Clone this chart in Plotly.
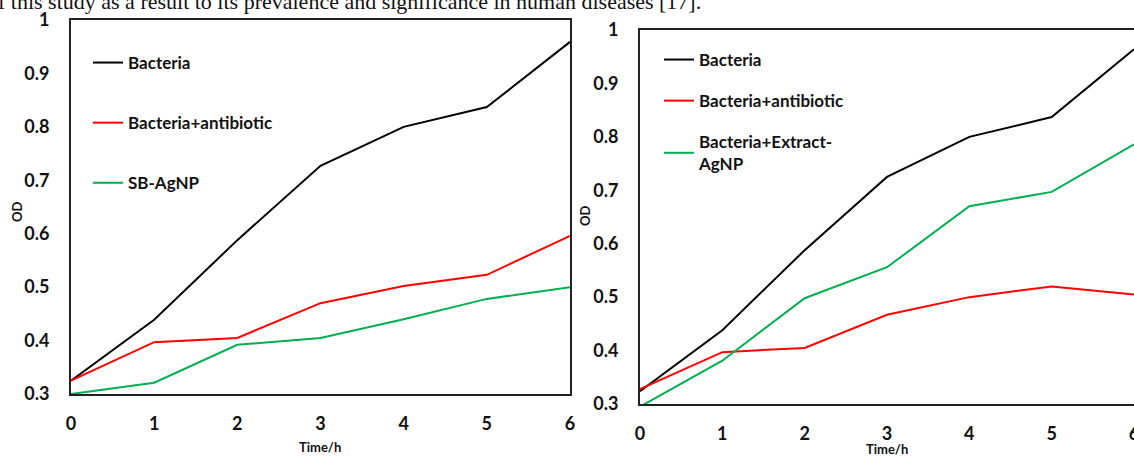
import plotly.graph_objects as go

hours = [0, 1, 2, 3, 4, 5, 6]
tick_vals_y = [0.3, 0.4, 0.5, 0.6, 0.7, 0.8, 0.9, 1.0]
tick_text_y = ["0.3", "0.4", "0.5", "0.6", "0.7", "0.8", "0.9", "1"]

# Left panel
left_bacteria = [0.325, 0.439, 0.588, 0.727, 0.800, 0.837, 0.959]
left_antibiotic = [0.325, 0.397, 0.405, 0.470, 0.502, 0.523, 0.596]
left_sbagnp = [0.300, 0.321, 0.392, 0.405, 0.440, 0.478, 0.500]

# Right panel
right_bacteria = [0.324, 0.438, 0.588, 0.725, 0.800, 0.837, 0.964]
right_antibiotic = [0.328, 0.397, 0.405, 0.467, 0.500, 0.520, 0.505]
right_extract = [0.295, 0.381, 0.498, 0.556, 0.670, 0.697, 0.786]

BLACK = "#000000"
RED = "#FF0000"
GREEN = "#00B050"
FONT = "Lato"

W, H = 1134, 457

fig = go.Figure()

def add(x, y, name, color, xa, ya, legend, group):
    fig.add_trace(go.Scatter(
        x=x, y=y, name=name, mode="lines",
        line=dict(color=color, width=2),
        xaxis=xa, yaxis=ya, legend=legend, legendgroup=group,
        cliponaxis=True,
    ))

add(hours, left_bacteria, "Bacteria", BLACK, "x", "y", "legend", "a")
add(hours, left_antibiotic, "Bacteria+antibiotic", RED, "x", "y", "legend", "b")
add(hours, left_sbagnp, "SB-AgNP", GREEN, "x", "y", "legend", "c")

add(hours, right_bacteria, "Bacteria", BLACK, "x2", "y2", "legend2", "d")
add(hours, right_antibiotic, "Bacteria+antibiotic", RED, "x2", "y2", "legend2", "e")
add(hours, right_extract, "Bacteria+Extract-<br>AgNP", GREEN, "x2", "y2", "legend2", "f")

def px_x(p):
    return p / W

def px_y(p):
    return 1 - p / H

tickfont = dict(family=FONT, size=18, color="#111111", weight="bold")
titlefont = dict(family=FONT, size=13, color="#111111", weight="bold")
legfont = dict(family=FONT, size=17, color="#111111", weight="bold")

common_x = dict(range=[0, 6], tickvals=hours, showgrid=False, zeroline=False,
                showline=True, linecolor="#222222", linewidth=2, ticks="",
                tickfont=tickfont, fixedrange=True, automargin=False,
                ticklabeloverflow="allow")
common_y = dict(range=[0.3, 1.0], tickvals=tick_vals_y, ticktext=tick_text_y,
                showgrid=False, zeroline=False, showline=True, linecolor="#222222",
                linewidth=2, ticks="", tickfont=tickfont, fixedrange=True,
                automargin=False, ticklabeloverflow="allow")

fig.update_layout(
    width=W, height=H,
    margin=dict(l=0, r=0, t=0, b=0, autoexpand=False),
    paper_bgcolor="white", plot_bgcolor="white",
    xaxis=dict(**common_x, domain=[px_x(71), px_x(570)], anchor="y", mirror=True,
               ticklabelstandoff=12),
    yaxis=dict(**common_y, domain=[px_y(394), px_y(20)], anchor="x", mirror=True,
               ticklabelstandoff=16),
    xaxis2=dict(**common_x, domain=[px_x(640), 1.0], anchor="y2", mirror=True,
                ticklabelstandoff=12),
    yaxis2=dict(**common_y, domain=[px_y(404), px_y(30)], anchor="x2",
                ticklabelstandoff=16),
    legend=dict(x=px_x(88), y=px_y(45), xanchor="left", yanchor="top",
                bgcolor="rgba(0,0,0,0)", tracegroupgap=35,
                font=legfont, itemwidth=30),
    legend2=dict(x=px_x(659), y=px_y(42), xanchor="left", yanchor="top",
                 bgcolor="rgba(0,0,0,0)", tracegroupgap=16,
                 font=legfont, itemwidth=30),
    showlegend=True,
)

# axis titles
for text, x, y, ang in [("Time/h", 320, 447, 0), ("Time/h", 887, 449, 0),
                        ("OD", 17, 212, -90), ("OD", 585, 216, -90)]:
    fig.add_annotation(text=text, xref="paper", yref="paper", x=px_x(x), y=px_y(y),
                       xanchor="center", yanchor="middle", showarrow=False,
                       textangle=ang, font=titlefont)

fig.add_annotation(
    text="f this study as a result to its prevalence and significance in human diseases [17].",
    xref="paper", yref="paper", x=px_x(-4), y=px_y(16), xanchor="left", yanchor="bottom",
    showarrow=False, font=dict(family="Liberation Serif", size=22, color="#111111"),
)

fig.write_html("out.html")
